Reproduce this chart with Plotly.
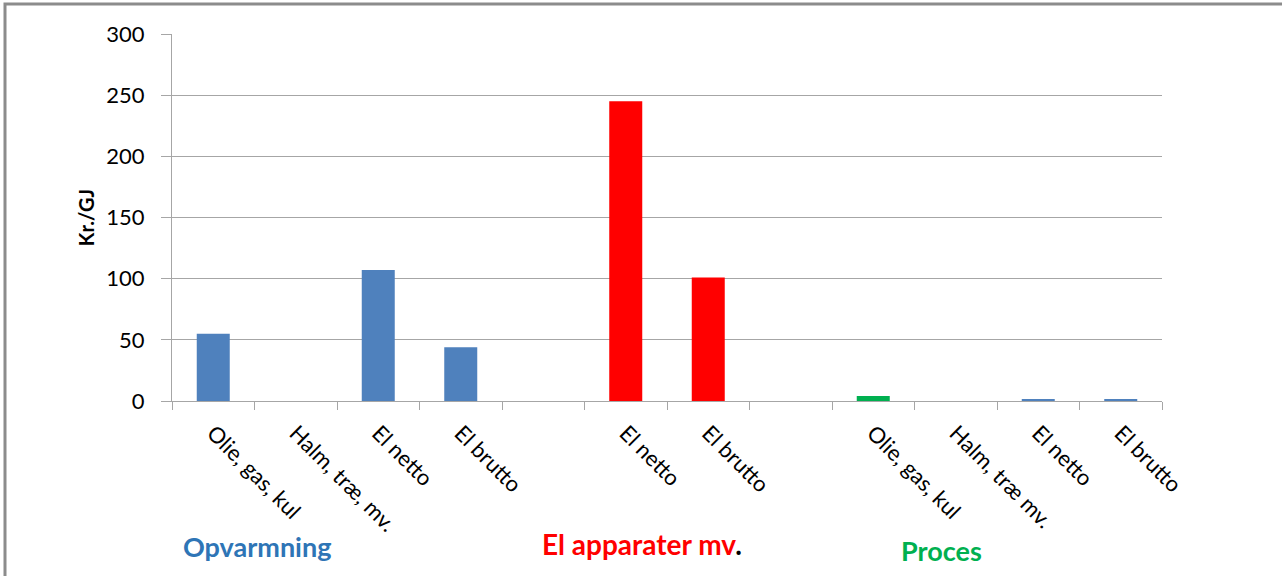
import plotly.graph_objects as go

# Category slots along the x axis (two empty spacer slots separate the groups)
tick_labels = ["Olie, gas, kul", "Halm, træ, mv.", "El netto", "El brutto", "",
               "El netto", "El brutto", "",
               "Olie, gas, kul", "Halm, træ mv.", "El netto", "El brutto"]

# Opvarmning (heating)
heat_x = [0, 1, 2, 3]
heat_y = [55, 0, 107, 44]
# El apparater mv. (appliances)
app_x = [5, 6]
app_y = [245, 101]
# Proces
proc_green_x = [8, 9]
proc_green_y = [4, 0]
proc_blue_x = [10, 11]
proc_blue_y = [1, 1]

y_ticks = [0, 50, 100, 150, 200, 250, 300]

BLUE = "#4F81BD"
RED = "#FF0000"
GREEN = "#00B050"
GRID = "#A6A6A6"
FONT = "Lato, 'Open Sans', sans-serif"

fig = go.Figure()
fig.add_trace(go.Bar(x=heat_x, y=heat_y, marker=dict(color=BLUE, line=dict(width=0)), width=0.4))
fig.add_trace(go.Bar(x=app_x, y=app_y, marker=dict(color=RED, line=dict(width=0)), width=0.4))
fig.add_trace(go.Bar(x=proc_green_x, y=proc_green_y, marker=dict(color=GREEN, line=dict(width=0)), width=0.4))
fig.add_trace(go.Bar(x=proc_blue_x, y=proc_blue_y, marker=dict(color=BLUE, line=dict(width=0)), width=0.4))
# invisible trace carrying the label axis
fig.add_trace(go.Scatter(x=[0, 11], y=[0, 0], xaxis="x2", mode="markers",
                         marker=dict(opacity=0), hoverinfo="skip"))

L, R, T, B = 172, 120, 34, 175
W, H = 1282, 576
plot_w = W - L - R
plot_h = H - T - B

fig.update_layout(
    width=W, height=H,
    margin=dict(l=L, r=R, t=T, b=B),
    paper_bgcolor="white", plot_bgcolor="white",
    showlegend=False, barmode="overlay",
    font=dict(family=FONT, color="#000000"),
    xaxis=dict(
        range=[-0.5, 11.5],
        tickmode="array",
        tickvals=[i - 0.5 for i in range(13)],
        ticktext=[""] * 13,
        ticks="outside", ticklen=8, tickcolor=GRID, tickwidth=1,
        showline=True, linecolor=GRID, linewidth=1,
        showgrid=False, zeroline=False,
    ),
    xaxis2=dict(
        range=[-0.5, 11.5], overlaying="x", side="bottom", anchor="y",
        tickmode="array", tickvals=list(range(12)), ticktext=tick_labels,
        tickangle=45, ticks="", showgrid=False, zeroline=False, showline=False,
        ticklabelstandoff=14,
        tickfont=dict(size=22, family=FONT, color="#000000"),
    ),
    yaxis=dict(
        range=[0, 300], tickmode="array", tickvals=y_ticks,
        ticks="outside", ticklen=10, tickcolor=GRID, tickwidth=1,
        showline=True, linecolor=GRID, linewidth=1,
        showgrid=True, gridcolor=GRID, gridwidth=1, zeroline=False,
        ticklabelstandoff=12,
        tickfont=dict(size=22, family=FONT, color="#000000"),
        title=dict(text="<b>Kr./GJ</b>", font=dict(size=20, family=FONT), standoff=6),
    ),
)


def px_x(p):
    return (p - L) / plot_w


def px_y(p):
    return (H - B - p) / plot_h


# group captions beneath the tick labels
captions = [
    (257, 546, "<b>Opvarmning</b>", "#2E75B6", 27),
    (642, 544, "<b><span style='color:#FF0000'>El apparater mv</span>.</b>", "#000000", 28),
    (941, 550, "<b>Proces</b>", GREEN, 27),
]
for cx, cy, txt, col, sz in captions:
    fig.add_annotation(x=px_x(cx), y=px_y(cy), xref="paper", yref="paper",
                       xanchor="center", yanchor="middle",
                       text=txt, showarrow=False,
                       font=dict(size=sz, color=col, family=FONT))

# outer frame
fig.add_shape(type="path", xref="paper", yref="paper",
              path=f"M {px_x(5)} {px_y(600)} L {px_x(5)} {px_y(4)} L {px_x(1300)} {px_y(4)}",
              line=dict(color="#8C8C8C", width=3))

fig.write_html("out.html")
